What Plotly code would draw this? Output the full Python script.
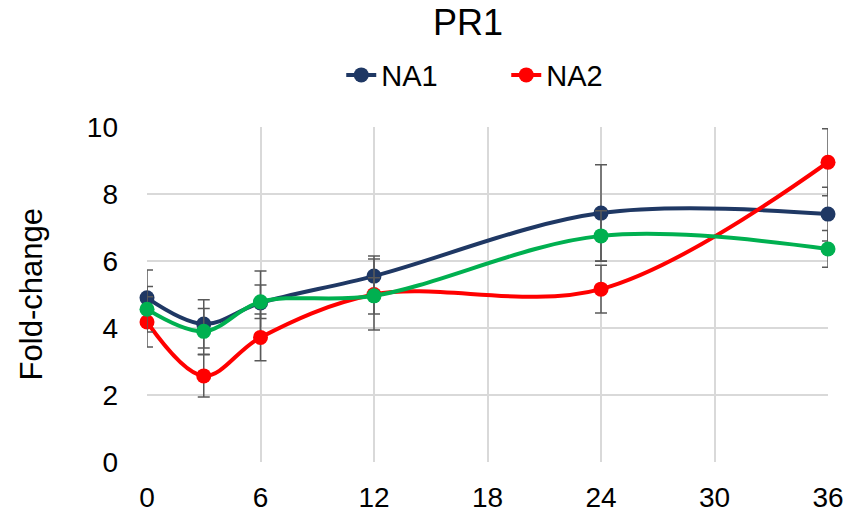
import plotly.graph_objects as go

# Time points (x) and fold-change values for each series
hours = [0, 3, 6, 12, 24, 36]

na1 = [4.90, 4.12, 4.75, 5.55, 7.43, 7.40]
na1_err = [0.83, 0.72, 0.95, 0.60, 1.44, 0.80]

na2 = [4.18, 2.57, 3.72, 5.00, 5.16, 8.95]
na2_err = [0.75, 0.63, 0.70, 1.06, 0.71, 1.00]

na3 = [4.56, 3.90, 4.78, 4.96, 6.75, 6.36]
na3_err = [0.68, 0.68, 0.50, 0.54, 0.75, 0.55]

x_ticks = [0, 6, 12, 18, 24, 30, 36]
y_ticks = [0, 2, 4, 6, 8, 10]

FONT = "Liberation Sans, Arial, sans-serif"
ERR_COLOR = "#595959"

series = [
    ("NA1", na1, na1_err, "#1F3864", True),
    ("NA2", na2, na2_err, "#FF0000", True),
    ("NA3", na3, na3_err, "#00B050", False),
]

fig = go.Figure()
for name, vals, errs, color, show in series:
    fig.add_trace(go.Scatter(
        x=hours, y=vals, name=name, showlegend=show,
        mode="lines+markers",
        line=dict(color=color, width=4, shape="spline", smoothing=1.0),
        marker=dict(color=color, size=15),
        error_y=dict(type="data", array=errs, visible=True,
                     color=ERR_COLOR, thickness=1.5, width=6),
        cliponaxis=False,
    ))

fig.update_layout(
    width=851, height=517,
    margin=dict(l=147, r=23, t=127, b=55, autoexpand=False),
    paper_bgcolor="white", plot_bgcolor="white",
    font=dict(family=FONT, size=28, color="black"),
    title=dict(text="PR1", x=0.55, xanchor="center", y=0.957, yanchor="middle",
               font=dict(size=36, color="black")),
    legend=dict(orientation="h", xref="container", x=0.401, xanchor="left",
                y=1.155, yanchor="middle",
                font=dict(size=29), entrywidth=120, entrywidthmode="pixels",
                tracegroupgap=0, bgcolor="rgba(0,0,0,0)"),
    showlegend=True,
    annotations=[dict(
        text="Fold-change", textangle=-90, showarrow=False,
        xref="paper", yref="paper", x=-0.169, y=0.5,
        xanchor="center", yanchor="middle",
        font=dict(size=31, color="black"),
    )],
)

fig.update_xaxes(
    range=[0, 36], tickvals=x_ticks, ticktext=[str(v) for v in x_ticks],
    showgrid=True, gridcolor="#D9D9D9", gridwidth=1.5, automargin=False,
    zeroline=False, showline=False, ticks="", ticklabelstandoff=16,
    tickfont=dict(size=28),
)
fig.update_yaxes(
    range=[0, 10], tickvals=y_ticks, ticktext=[str(v) for v in y_ticks],
    showgrid=True, gridcolor="#D9D9D9", gridwidth=1.5, automargin=False,
    zeroline=False, showline=False, ticks="", ticklabelstandoff=28,
    tickfont=dict(size=28),
)

fig.write_html("out.html")
